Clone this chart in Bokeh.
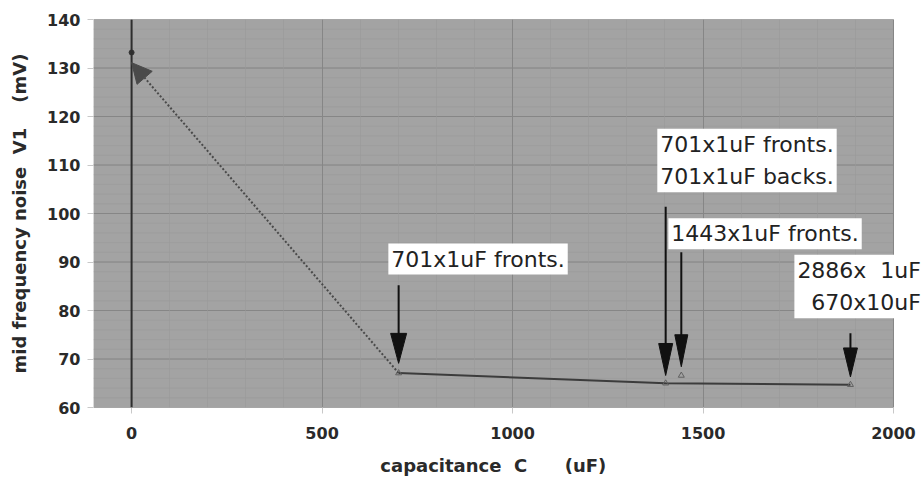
from bokeh.plotting import figure
from bokeh.models import Range1d, Span, Label, Arrow, NormalHead, FixedTicker, BoxAnnotation
from bokeh.embed import file_html
from bokeh.resources import INLINE

# ---------------- data ----------------
cap_start = [0]
noise_start = [133.2]

cap_uF = [701, 1402, 1443, 1887]
noise_mV = [67.1, 65.0, 66.6, 64.7]

line_cap = [701, 1402, 1887]
line_noise = [67.1, 65.0, 64.7]

x_ticks = [0, 500, 1000, 1500, 2000]
y_ticks = [60, 70, 80, 90, 100, 110, 120, 130, 140]

# annotation arrows (x, start y, tip y) and labels
arrow_x = [701, 1402, 1443, 1887]
arrow_y0 = [85.2, 101.4, 92.0, 75.3]
arrow_tip = [69.1, 66.6, 68.4, 66.3]
head_w_px = [16, 14, 13, 14]
head_h_px = [30, 32, 32, 29]

NB = "\u00a0"
label_text = ["701x1uF fronts.", "701x1uF fronts.\n701x1uF backs.",
              "1443x1uF fronts.", "2886x" + NB * 2 + "1uF\n670x10uF"]
label_x = [674, 1380, 1409, 2080]
label_y = [93.8, 117.5, 99.0, 91.5]
label_anchor = ["top_left", "top_left", "top_left", "top_right"]
label_align = ["left", "left", "left", "right"]

# plot-area extent (the gray panel) and the visible range (text overflows to the right)
X0, X1, Y0, Y1 = -100, 2000, 60, 140
XV1 = 2081.4
FW, FH = 831, 388

p = figure(output_backend="svg", toolbar_location=None,
           frame_width=FW, frame_height=FH,
           x_range=Range1d(X0, XV1), y_range=Range1d(Y0, Y1),
           min_border_left=93, min_border_right=0,
           min_border_top=19, min_border_bottom=71,
           background_fill_color="white", border_fill_color="white",
           outline_line_color=None)

p.add_layout(BoxAnnotation(left=X0, right=X1, bottom=Y0, top=Y1, level="image",
                           fill_color="#a3a3a3", fill_alpha=1.0,
                           line_color="#8c8c8c", line_width=1))

# axes
tick_font = "DejaVu Sans"
for ax in (p.xaxis[0], p.yaxis[0]):
    ax.axis_line_color = None
    ax.major_tick_line_color = "#c8c8c8"
    ax.major_tick_in = 0
    ax.major_tick_out = 6
    ax.minor_tick_line_color = None
    ax.major_label_text_font = tick_font
    ax.major_label_text_font_style = "bold"
    ax.major_label_text_font_size = "16px"
    ax.major_label_text_color = "#2a2a2a"
    ax.axis_label_text_font = tick_font
    ax.axis_label_text_font_style = "bold"
    ax.axis_label_text_font_size = "18px"
    ax.axis_label_text_color = "#2a2a2a"

x_minor = list(range(X0, X1 + 1, 100))
y_minor = list(range(Y0, Y1 + 1, 2))
p.xaxis.ticker = FixedTicker(ticks=x_ticks, minor_ticks=x_minor)
p.yaxis.ticker = FixedTicker(ticks=y_ticks, minor_ticks=y_minor)
p.xaxis.major_label_standoff = 13
p.yaxis.major_label_standoff = 7
# trailing spaces keep the title centred under the gray panel rather than the whole frame
p.xaxis.axis_label = "capacitance" + NB * 2 + "C" + NB * 6 + "(uF)" + NB * 5
p.yaxis.axis_label = "mid frequency noise" + NB * 2 + "V1" + NB * 4 + "(mV)"
p.xaxis.axis_label_standoff = 13
p.yaxis.axis_label_standoff = 14

p.xgrid.grid_line_color = "#868686"
p.xgrid.minor_grid_line_color = "#999999"
p.xgrid.minor_grid_line_alpha = 0.6
p.ygrid.grid_line_color = None

# horizontal grid lines, limited to the gray panel
p.segment(x0=[X0] * len(y_minor), y0=y_minor, x1=[X1] * len(y_minor), y1=y_minor,
          line_color="#999999", line_alpha=0.6, line_width=1, level="underlay")
p.segment(x0=[X0] * len(y_ticks), y0=y_ticks, x1=[X1] * len(y_ticks), y1=y_ticks,
          line_color="#868686", line_width=1, level="underlay")

# vertical line at C = 0
p.add_layout(Span(location=0, dimension="height", line_color="#2e2e2e", line_width=2))

# dotted arrow back to starting point
p.add_layout(Arrow(x_start=cap_uF[0], y_start=noise_mV[0], x_end=cap_start[0], y_end=131.1,
                   line_color="#4a4a4a", line_width=2, line_dash="2 2",
                   end=NormalHead(size=20, fill_color="#4a4a4a", line_color="#4a4a4a")))

# data
p.line(line_cap, line_noise, line_color="#3c3c3c", line_width=2)
p.scatter(cap_uF, noise_mV, marker="triangle", size=6, fill_color=None,
          line_color="#606060", line_width=1)
p.scatter(cap_start, noise_start, marker="circle", size=5,
          fill_color="#333333", line_color="#333333")

# annotation arrows
ux = (X1 - X0) / 800
uy = (Y1 - Y0) / FH
p.segment(x0=arrow_x, y0=arrow_y0, x1=arrow_x,
          y1=[t + h * uy * 0.8 for t, h in zip(arrow_tip, head_h_px)],
          line_color="#111111", line_width=2)
hx = [[x - w * ux / 2, x + w * ux / 2, x] for x, w in zip(arrow_x, head_w_px)]
hy = [[t + h * uy, t + h * uy, t] for t, h in zip(arrow_tip, head_h_px)]
p.patches(hx, hy, fill_color="#111111", line_color="#111111", line_width=1)

# labels
for t, x, y, a, al in zip(label_text, label_x, label_y, label_anchor, label_align):
    p.add_layout(Label(x=x, y=y, text=t, anchor=a, text_align=al,
                       text_font="DejaVu Sans", text_font_size="22px",
                       text_color="#222222", text_line_height=1.3,
                       background_fill_color="white", padding=3))

open("out.html", "w").write(file_html(p, INLINE))
